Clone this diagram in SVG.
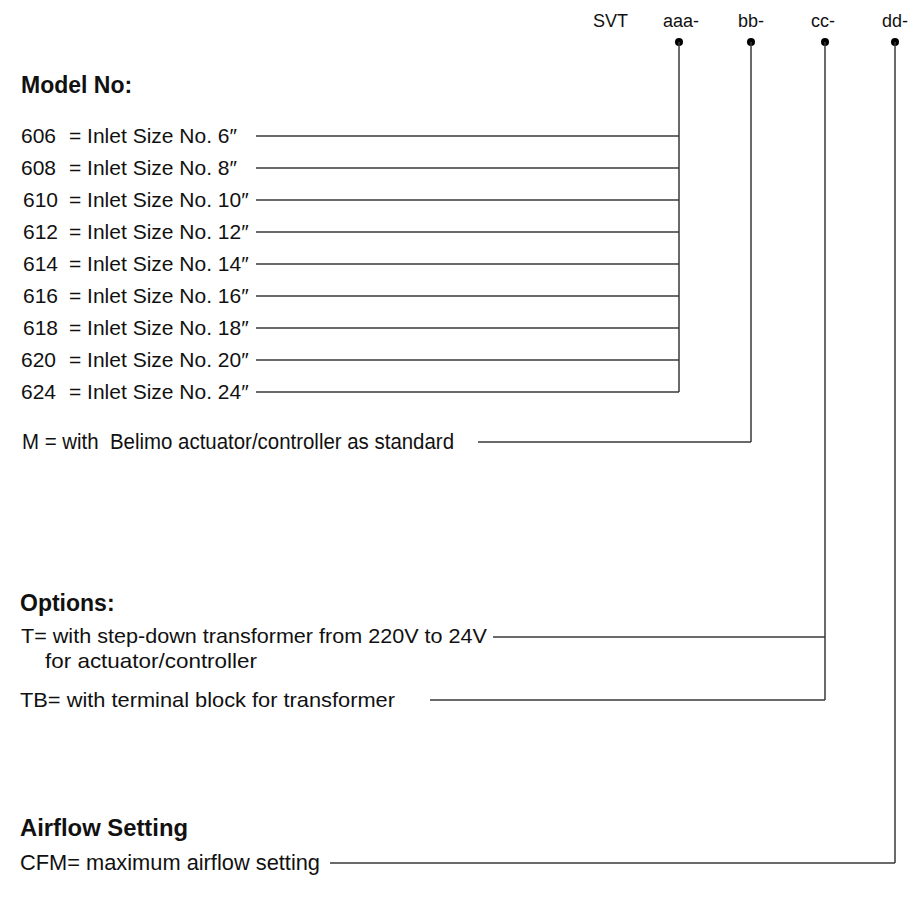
<svg xmlns="http://www.w3.org/2000/svg" width="913" height="907" viewBox="0 0 913 907">
<style>
text{font-family:"Liberation Sans",Arial,sans-serif;fill:#111}
.h{font-size:23px;font-weight:bold}
.t{font-size:21px}
.c{font-size:22px}
.k{font-size:18px}
.ln{stroke:#3a3a3a;stroke-width:1.5;fill:none}
.dot{fill:#000}
</style>
<rect width="913" height="907" fill="#fff"/>
<g id="code">
<text class="k" x="593" y="27">SVT</text>
<text class="k" x="663" y="27">aaa-</text>
<text class="k" x="738" y="27">bb-</text>
<text class="k" x="811" y="27">cc-</text>
<text class="k" x="882" y="27">dd-</text>
</g>
<g id="connectors">
<circle class="dot" cx="679" cy="42" r="4"/>
<circle class="dot" cx="751" cy="42" r="4"/>
<circle class="dot" cx="825" cy="42" r="4"/>
<circle class="dot" cx="895" cy="42" r="4"/>
<path class="ln" d="M679 42V392M751 42V442M825 42V700M895 42V863"/>
<path class="ln" d="M256 136H679M256 168H679M256 200H679M256 232H679M256 264H679M256 296H679M256 328H679M256 360H679M256 392H679"/>
<path class="ln" d="M478 442H751M493 637H825M430 700H825M330 863H895"/>
</g>
<g id="model">
<text class="h" x="21" y="93">Model No:</text>
<text class="t" y="143"><tspan x="21">606</tspan><tspan x="69">= Inlet Size No. 6″</tspan></text>
<text class="t" y="175"><tspan x="21">608</tspan><tspan x="69">= Inlet Size No. 8″</tspan></text>
<text class="t" y="207"><tspan x="23">610</tspan><tspan x="69">= Inlet Size No. 10″</tspan></text>
<text class="t" y="239"><tspan x="23">612</tspan><tspan x="69">= Inlet Size No. 12″</tspan></text>
<text class="t" y="271"><tspan x="23">614</tspan><tspan x="69">= Inlet Size No. 14″</tspan></text>
<text class="t" y="303"><tspan x="23">616</tspan><tspan x="69">= Inlet Size No. 16″</tspan></text>
<text class="t" y="335"><tspan x="23">618</tspan><tspan x="69">= Inlet Size No. 18″</tspan></text>
<text class="t" y="367"><tspan x="21">620</tspan><tspan x="69">= Inlet Size No. 20″</tspan></text>
<text class="t" y="399"><tspan x="21">624</tspan><tspan x="69">= Inlet Size No. 24″</tspan></text>
</g>
<g id="actuator">
<text class="c" x="22" y="449" textLength="432" lengthAdjust="spacingAndGlyphs" xml:space="preserve">M = with  Belimo actuator/controller as standard</text>
</g>
<g id="options">
<text class="h" x="20" y="611">Options:</text>
<text class="t" x="21" y="643" textLength="466" lengthAdjust="spacingAndGlyphs">T= with step-down transformer from 220V to 24V</text>
<text class="t" x="45" y="668" textLength="212" lengthAdjust="spacingAndGlyphs">for actuator/controller</text>
<text class="t" x="20" y="707" textLength="375" lengthAdjust="spacingAndGlyphs">TB= with terminal block for transformer</text>
</g>
<g id="airflow">
<text class="h" x="20" y="836" textLength="168" lengthAdjust="spacingAndGlyphs">Airflow Setting</text>
<text class="c" x="20" y="870" textLength="300" lengthAdjust="spacingAndGlyphs">CFM= maximum airflow setting</text>
</g>
</svg>
